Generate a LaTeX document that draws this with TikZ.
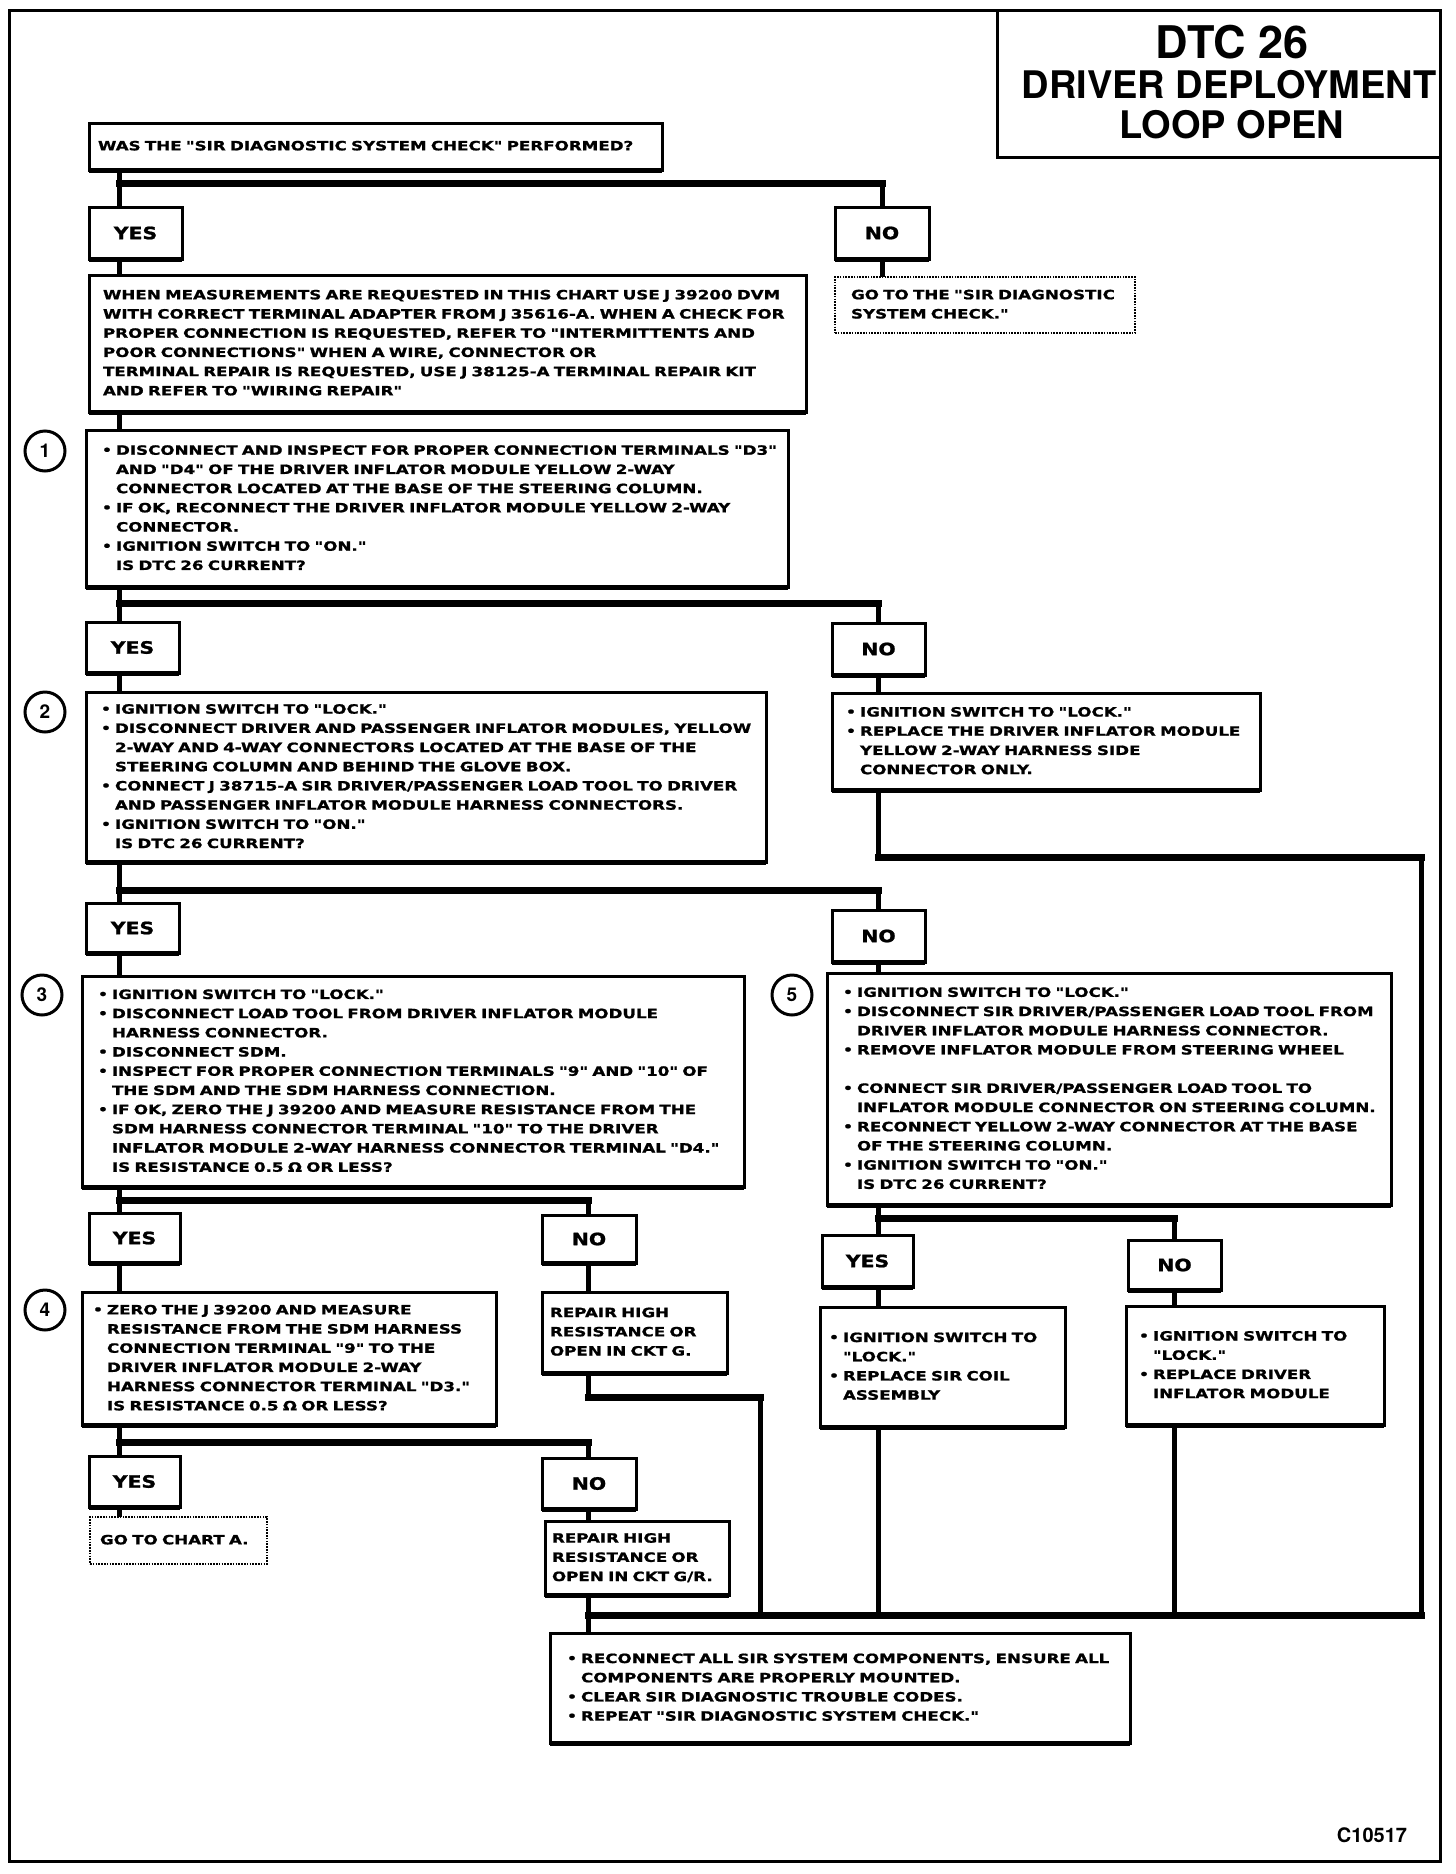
\documentclass[tikz,border=0pt]{standalone}
\usepackage{fontspec}
\usepackage{tikz}
\usetikzlibrary{calc}
\usetikzlibrary{positioning}

\newfontfamily\chartfont{DejaVu Sans}[FakeStretch=1.305, FakeBold=1.2]
\newfontfamily\ansfamily{DejaVu Sans}[FakeStretch=1.2, FakeBold=1.2]
\newfontfamily\headfont{TeX Gyre Heros}
\newcommand\bodyfont{\chartfont\bfseries\fontsize{12.8pt}{19.2pt}\selectfont}
\newcommand\ansfont{\ansfamily\bfseries\fontsize{17pt}{19pt}\selectfont}
\newcommand\bu{\makebox[14pt][l]{\raisebox{0.5pt}{\fontsize{12pt}{12pt}\selectfont •}}}
\newcommand\hi{\hspace*{14pt}}
\newcommand\rows[1]{\begin{tabular}{@{}l@{}}#1\end{tabular}}

\begin{document}
\begin{tikzpicture}[x=1pt,y=-1pt,
  box/.style={draw, line width=3pt, anchor=north west, inner ysep=0pt,
              outer sep=0pt, font=\bodyfont},
  dotbox/.style={box, line width=2.2pt, dash pattern=on 1.6pt off 1.2pt},
  answer/.style={draw, line width=3pt, anchor=north west, inner sep=0pt,
                 outer sep=0pt, font=\ansfont},
  stepnum/.style={circle, draw, line width=3pt, minimum size=40pt,
                  inner sep=0pt, font=\headfont\bfseries\fontsize{19pt}{19pt}\selectfont},
  conn/.style={line width=5pt},
  bar/.style={line width=7pt, line cap=rect},
  edge/.style={line width=5pt}]
\useasboundingbox (0,0) rectangle (1456,1874);

% frame and title
\draw[line width=3pt] (9,10) rectangle (1440,1861);
\draw[line width=3pt] (997,10) -- (997,157) -- (1440,157);
\node[font=\headfont\bfseries\fontsize{45pt}{45pt}\selectfont] (t1) at (1232,42) {DTC 26};
\node[font=\headfont\bfseries\fontsize{38pt}{38pt}\selectfont] (t2) at (1229,85) {DRIVER DEPLOYMENT};
\node[font=\headfont\bfseries\fontsize{38pt}{38pt}\selectfont] (t3) at (1232,125) {LOOP OPEN};

\coordinate (colA) at (119,0);
\coordinate (colC) at (588,0);
\coordinate (colF) at (760,0);
\coordinate (colB) at (878,0);
\coordinate (colD) at (1174,0);
\coordinate (colE) at (1421,0);

% boxes
\node[box, text width=555pt, inner xsep=9pt, minimum height=47pt] (q) at (89,123)
  {\rows{WAS THE "SIR DIAGNOSTIC SYSTEM CHECK" PERFORMED?}};
\node[box, text width=689pt, inner xsep=14pt, minimum height=137pt] (meas) at (89,275)
  {\rows{WHEN MEASUREMENTS ARE REQUESTED IN THIS CHART USE J 39200 DVM\\
  WITH CORRECT TERMINAL ADAPTER FROM J 35616-A. WHEN A CHECK FOR\\
  PROPER CONNECTION IS REQUESTED, REFER TO "INTERMITTENTS AND\\
  POOR CONNECTIONS" WHEN A WIRE, CONNECTOR OR\\
  TERMINAL REPAIR IS REQUESTED, USE J 38125-A TERMINAL REPAIR KIT\\
  AND REFER TO "WIRING REPAIR"}};
\node[dotbox, text width=268pt, inner xsep=16pt, minimum height=56pt] (goto1) at (835,277)
  {\rows{GO TO THE "SIR DIAGNOSTIC\\ SYSTEM CHECK."}};
\node[box, text width=670pt, inner xsep=16pt, minimum height=157pt] (s1) at (86,430)
  {\rows{\bu DISCONNECT AND INSPECT FOR PROPER CONNECTION TERMINALS "D3"\\
  \hi AND "D4" OF THE DRIVER INFLATOR MODULE YELLOW 2-WAY\\
  \hi CONNECTOR LOCATED AT THE BASE OF THE STEERING COLUMN.\\
  \bu IF OK, RECONNECT THE DRIVER INFLATOR MODULE YELLOW 2-WAY\\
  \hi CONNECTOR.\\
  \bu IGNITION SWITCH TO "ON."\\
  \hi IS DTC 26 CURRENT?}};
\node[box, text width=650pt, inner xsep=15pt, minimum height=170pt] (s2) at (86,692)
  {\rows{\bu IGNITION SWITCH TO "LOCK."\\
  \bu DISCONNECT DRIVER AND PASSENGER INFLATOR MODULES, YELLOW\\
  \hi 2-WAY AND 4-WAY CONNECTORS LOCATED AT THE BASE OF THE\\
  \hi STEERING COLUMN AND BEHIND THE GLOVE BOX.\\
  \bu CONNECT J 38715-A SIR DRIVER/PASSENGER LOAD TOOL TO DRIVER\\
  \hi AND PASSENGER INFLATOR MODULE HARNESS CONNECTORS.\\
  \bu IGNITION SWITCH TO "ON."\\
  \hi IS DTC 26 CURRENT?}};
\node[box, text width=400pt, inner xsep=14pt, minimum height=97pt] (fix1) at (832,693)
  {\rows{\bu IGNITION SWITCH TO "LOCK."\\
  \bu REPLACE THE DRIVER INFLATOR MODULE\\
  \hi YELLOW 2-WAY HARNESS SIDE\\
  \hi CONNECTOR ONLY.}};
\node[box, text width=630pt, inner xsep=16pt, minimum height=211pt] (s3) at (82,976)
  {\rows{\bu IGNITION SWITCH TO "LOCK."\\
  \bu DISCONNECT LOAD TOOL FROM DRIVER INFLATOR MODULE\\
  \hi HARNESS CONNECTOR.\\
  \bu DISCONNECT SDM.\\
  \bu INSPECT FOR PROPER CONNECTION TERMINALS "9" AND "10" OF\\
  \hi THE SDM AND THE SDM HARNESS CONNECTION.\\
  \bu IF OK, ZERO THE J 39200 AND MEASURE RESISTANCE FROM THE\\
  \hi SDM HARNESS CONNECTOR TERMINAL "10" TO THE DRIVER\\
  \hi INFLATOR MODULE 2-WAY HARNESS CONNECTOR TERMINAL "D4."\\
  \hi IS RESISTANCE 0.5 Ω OR LESS?}};
\node[box, text width=532pt, inner xsep=16pt, minimum height=232pt] (s5) at (827,973)
  {\rows{\bu IGNITION SWITCH TO "LOCK."\\
  \bu DISCONNECT SIR DRIVER/PASSENGER LOAD TOOL FROM\\
  \hi DRIVER INFLATOR MODULE HARNESS CONNECTOR.\\
  \bu REMOVE INFLATOR MODULE FROM STEERING WHEEL\\
  \\
  \bu CONNECT SIR DRIVER/PASSENGER LOAD TOOL TO\\
  \hi INFLATOR MODULE CONNECTOR ON STEERING COLUMN.\\
  \bu RECONNECT YELLOW 2-WAY CONNECTOR AT THE BASE\\
  \hi OF THE STEERING COLUMN.\\
  \bu IGNITION SWITCH TO "ON."\\
  \hi IS DTC 26 CURRENT?}};
\node[box, text width=392pt, inner xsep=11pt, minimum height=133pt] (s4) at (82,1292)
  {\rows{\bu ZERO THE J 39200 AND MEASURE\\
  \hi RESISTANCE FROM THE SDM HARNESS\\
  \hi CONNECTION TERMINAL "9" TO THE\\
  \hi DRIVER INFLATOR MODULE 2-WAY\\
  \hi HARNESS CONNECTOR TERMINAL "D3."\\
  \hi IS RESISTANCE 0.5 Ω OR LESS?}};
\node[box, text width=169pt, inner xsep=8pt, minimum height=81pt] (rep1) at (542,1292)
  {\rows{REPAIR HIGH\\ RESISTANCE OR\\ OPEN IN CKT G.}};
\node[box, text width=227pt, inner xsep=9pt, minimum height=120pt] (coil) at (820,1307)
  {\rows{\bu IGNITION SWITCH TO\\ \hi "LOCK."\\ \bu REPLACE SIR COIL\\ \hi ASSEMBLY\\ }};
\node[box, text width=232pt, inner xsep=13pt, minimum height=119pt] (swap) at (1126,1306)
  {\rows{\bu IGNITION SWITCH TO\\ \hi "LOCK."\\ \bu REPLACE DRIVER\\ \hi INFLATOR MODULE\\ }};
\node[dotbox, text width=157pt, inner xsep=10pt, minimum height=47pt] (charta) at (90,1517)
  {\rows{GO TO CHART A.}};
\node[box, text width=170pt, inner xsep=7pt, minimum height=74pt] (rep2) at (545,1521)
  {\rows{REPAIR HIGH\\ RESISTANCE OR\\ OPEN IN CKT G/R.}};
\node[box, text width=546pt, inner xsep=17pt, minimum height=110pt] (final) at (550,1633)
  {\rows{\bu RECONNECT ALL SIR SYSTEM COMPONENTS, ENSURE ALL\\
  \hi COMPONENTS ARE PROPERLY MOUNTED.\\
  \bu CLEAR SIR DIAGNOSTIC TROUBLE CODES.\\
  \bu REPEAT "SIR DIAGNOSTIC SYSTEM CHECK."}};

% answers
\node[answer, minimum width=93pt, minimum height=52pt] (yes0) at (89,207) {YES};
\node[answer, minimum width=94pt, minimum height=52pt] (no0) at (835,207) {NO};
\node[answer, minimum width=93pt, minimum height=51pt] (yes1) at (86,622) {YES};
\node[answer, minimum width=93pt, minimum height=52pt] (no1) at (832,623) {NO};
\node[answer, minimum width=93pt, minimum height=50pt] (yes2) at (86,903) {YES};
\node[answer, minimum width=93pt, minimum height=52pt] (no2) at (832,910) {NO};
\node[answer, minimum width=91pt, minimum height=50pt] (yes3) at (89,1213) {YES};
\node[answer, minimum width=94pt, minimum height=48pt] (no3) at (542,1215) {NO};
\node[answer, minimum width=91pt, minimum height=52pt] (yes5) at (822,1235) {YES};
\node[answer, minimum width=93pt, minimum height=50pt] (no5) at (1128,1240) {NO};
\node[answer, minimum width=91pt, minimum height=51pt] (yes4) at (89,1456) {YES};
\node[answer, minimum width=94pt, minimum height=51pt] (no4) at (542,1458) {NO};

% step numbers
\node[stepnum] (n1) at (45,451) {1};
\node[stepnum] (n2) at (45,712) {2};
\node[stepnum] (n3) at (42,995) {3};
\node[stepnum] (n4) at (45,1310) {4};
\node[stepnum] (n5) at (792,995) {5};

\foreach \n in {q,meas,s1,s2,fix1,s3,s5,s4,rep1,coil,swap,rep2,final,
                yes0,no0,yes1,no1,yes2,no2,yes3,no3,yes5,no5,yes4,no4}
  \draw[edge] (\n.south west) -- (\n.south east);

% left trunk
\coordinate (b0) at (119,183);
\coordinate (b1) at (119,603);
\coordinate (b2) at (119,890);
\coordinate (b3) at (119,1200);
\coordinate (b4) at (119,1442);
\coordinate (b5) at (878,1218);
\draw[conn] (q.south -| colA) -- (yes0.north -| colA);
\draw[conn] (yes0.south -| colA) -- (meas.north -| colA);
\draw[conn] (meas.south -| colA) -- (s1.north -| colA);
\draw[conn] (s1.south -| colA) -- (yes1.north -| colA);
\draw[conn] (yes1.south -| colA) -- (s2.north -| colA);
\draw[conn] (s2.south -| colA) -- (yes2.north -| colA);
\draw[conn] (yes2.south -| colA) -- (s3.north -| colA);
\draw[conn] (s3.south -| colA) -- (yes3.north -| colA);
\draw[conn] (yes3.south -| colA) -- (s4.north -| colA);
\draw[conn] (s4.south -| colA) -- (yes4.north -| colA);
\draw[conn] (yes4.south -| colA) -- (charta.north -| colA);

% branches to the right
\draw[bar] (b0) -- (b0 -| no0);
\draw[conn] (b0 -| no0) -- (no0.north);
\draw[conn] (no0.south) -- (goto1.north -| no0);
\draw[bar] (b1) -- (b1 -| colB);
\draw[conn] (b1 -| colB) -- (no1.north -| colB);
\draw[conn] (no1.south -| colB) -- (fix1.north -| colB);
\draw[bar] (b2) -- (b2 -| colB);
\draw[conn] (b2 -| colB) -- (no2.north -| colB);
\draw[conn] (no2.south -| colB) -- (s5.north -| colB);
\draw[bar] (b3) -- (b3 -| colC);
\draw[conn] (b3 -| colC) -- (no3.north -| colC);
\draw[conn] (no3.south -| colC) -- (rep1.north -| colC);
\draw[bar] (b4) -- (b4 -| colC);
\draw[conn] (b4 -| colC) -- (no4.north -| colC);
\draw[conn] (no4.south -| colC) -- (rep2.north -| colC);
\draw[conn] (s5.south -| colB) -- (yes5.north -| colB);
\draw[bar] (b5) -- (b5 -| colD);
\draw[conn] (b5 -| colD) -- (no5.north -| colD);
\draw[conn] (yes5.south -| colB) -- (coil.north -| colB);
\draw[conn] (no5.south -| colD) -- (swap.north -| colD);

% returns to the last box
\coordinate (j0) at (588,1615);
\coordinate (r1) at (878,857);
\coordinate (r2) at (588,1397);
\draw[conn] (fix1.south -| colB) -- (r1);
\draw[bar] (r1) -- (r1 -| colE);
\draw[conn] (r1 -| colE) -- (j0 -| colE);
\draw[conn] (rep1.south -| colC) -- (r2);
\draw[bar] (r2) -- (r2 -| colF);
\draw[conn] (r2 -| colF) -- (j0 -| colF);
\draw[conn] (coil.south -| colB) -- (j0 -| colB);
\draw[conn] (swap.south -| colD) -- (j0 -| colD);
\draw[conn] (rep2.south -| colC) -- (final.north -| colC);
\draw[bar] (j0) -- (j0 -| colE);

\node[font=\headfont\bfseries\fontsize{20pt}{20pt}\selectfont] (code) at (1372,1835) {C10517};
\end{tikzpicture}
\end{document}
